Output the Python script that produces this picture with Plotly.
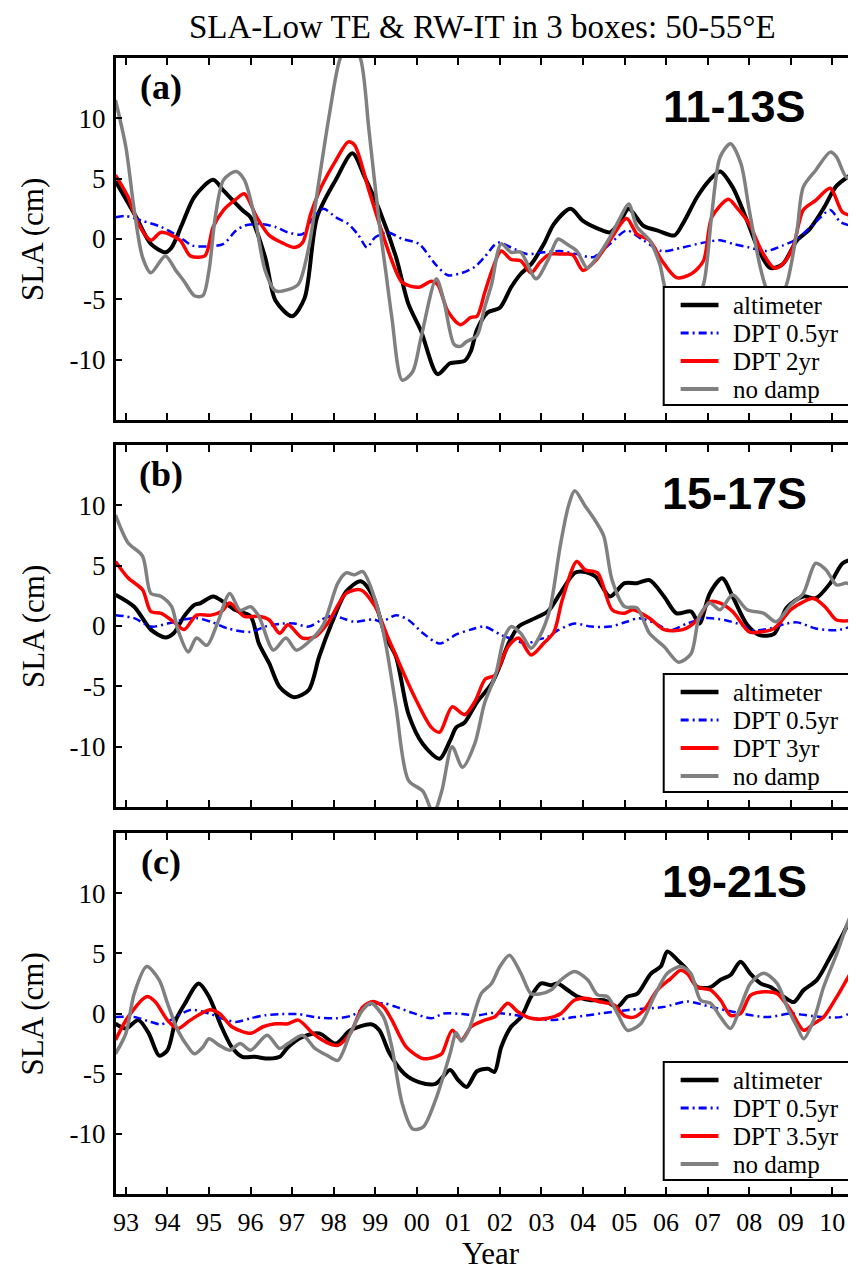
import plotly.graph_objects as go

# ---------------- data ----------------
TICK_YEARS = [1993, 1994, 1995, 1996, 1997, 1998, 1999, 2000, 2001, 2002,
              2003, 2004, 2005, 2006, 2007, 2008, 2009, 2010]
TICK_TEXT = ["93", "94", "95", "96", "97", "98", "99", "00", "01", "02",
             "03", "04", "05", "06", "07", "08", "09", "10"]
Y_TICKS = [-10, -5, 0, 5, 10]
Y_TICK_TEXT = ["-10", "-5", "0", "5", "10"]

PANEL_TAGS = ["(a)", "(b)", "(c)"]
PANEL_BOXES = ["11-13S", "15-17S", "19-21S"]
SERIES_NAMES = ["altimeter", "DPT 0.5yr", None, "no damp"]
RED_NAMES = ["DPT 2yr", "DPT 3yr", "DPT 3.5yr"]

# Panel (a) 11-13S
A_ALT_T = [1992.75, 1993.25, 1993.6, 1993.95, 1994.1, 1994.35, 1994.65, 1995.1, 1995.35, 1995.8,
           1996.0, 1996.35, 1996.6, 1997.0, 1997.3, 1997.6, 1998.05, 1998.45, 1998.75, 1999.1,
           1999.5, 1999.8, 2000.1, 2000.5, 2000.8, 2001.15, 2001.3, 2001.45, 2001.7, 2002.0,
           2002.27, 2002.5, 2002.75, 2003.06, 2003.3, 2003.7, 2004.0, 2004.4, 2004.65, 2004.9,
           2005.1, 2005.45, 2005.8, 2006.2, 2006.4, 2006.75, 2007.05, 2007.3, 2007.6, 2007.95,
           2008.2, 2008.5, 2008.8, 2009.15, 2009.45, 2009.8, 2010.1, 2010.57]
A_ALT_V = [4.8, 1.8, -0.4, -1.1, -0.7, 1.2, 3.5, 4.9, 4.0, 2.4,
           1.8, -1.5, -5.1, -6.4, -4.9, 1.8, 4.9, 7.1, 5.1, 2.4,
           -1.5, -5.4, -7.6, -11.2, -10.3, -10.1, -9.3, -7.5, -6.1, -5.7,
           -4.0, -2.9, -2.1, -0.4, 1.25, 2.5, 1.5, 0.8, 0.55, 1.5,
           2.5, 1.1, 0.7, 0.3, 1.25, 3.5, 4.9, 5.6, 4.3, 1.5,
           -0.7, -2.4, -2.1, -0.1, 0.8, 2.6, 4.4, 5.6]

A_BLUE_T = [1992.75, 1993.0, 1993.4, 1993.85, 1994.3, 1994.6, 1995.0, 1995.35, 1995.65, 1995.85,
            1996.2, 1996.6, 1996.9, 1997.25, 1997.45, 1997.75, 1998.05, 1998.35, 1998.6, 1998.8,
            1999.0, 1999.3, 1999.65, 2000.05, 2000.45, 2000.75, 2001.1, 2001.4, 2001.63, 2001.95,
            2002.27, 2002.65, 2003.06, 2003.45, 2003.85, 2004.25, 2004.65, 2005.05, 2005.45, 2005.9,
            2006.4, 2006.9, 2007.3, 2007.6, 2008.0, 2008.4, 2008.8, 2009.15, 2009.6, 2009.95,
            2010.2, 2010.57]
A_BLUE_V = [1.8, 1.9, 1.5, 1.0, 0.15, -0.55, -0.6, -0.4, 0.7, 1.1,
            1.25, 1.0, 0.55, 0.4, 1.5, 2.5, 1.8, 1.25, 0.3, -0.7,
            0.15, 0.55, 0.0, -0.4, -2.1, -3.0, -2.8, -2.3, -1.5, -0.3,
            -0.7, -1.25, -1.1, -1.0, -1.25, -1.5, -0.4, 0.7, -0.1, -1.0,
            -0.7, -0.3, -0.1, -0.4, -0.7, -1.0, -0.55, 0.0, 1.4, 2.4,
            1.4, 1.0]

A_RED_T = [1992.75, 1993.05, 1993.3, 1993.6, 1993.85, 1994.3, 1994.55, 1994.9, 1995.1, 1995.35,
           1995.65, 1995.85, 1996.15, 1996.45, 1996.75, 1997.05, 1997.25, 1997.45, 1997.7, 1998.05,
           1998.35, 1998.5, 1998.85, 1999.1, 1999.4, 1999.65, 2000.05, 2000.35, 2000.5, 2000.75,
           2001.05, 2001.3, 2001.45, 2001.63, 2001.8, 2002.03, 2002.27, 2002.5, 2002.75, 2002.97,
           2003.2, 2003.5, 2003.75, 2004.0, 2004.3, 2004.65, 2005.05, 2005.3, 2005.6, 2005.9,
           2006.25, 2006.6, 2006.9, 2007.1, 2007.5, 2007.7, 2008.0, 2008.3, 2008.6, 2008.8,
           2009.05, 2009.3, 2009.6, 2009.95, 2010.25, 2010.57]
A_RED_V = [5.3, 3.5, 1.25, -0.1, 0.55, -0.1, -1.4, -1.4, 1.0, 2.4,
           3.3, 3.75, 1.8, 0.3, -0.3, -0.7, -0.3, 2.1, 4.3, 6.5,
           8.05, 7.8, 4.0, 1.25, -1.8, -3.6, -4.0, -3.5, -3.75, -6.0,
           -7.1, -6.5, -6.4, -4.5, -2.7, -1.0, -1.7, -1.8, -2.8, -1.9,
           -1.25, -1.25, -1.3, -2.6, -1.8, -0.1, 1.7, 0.4, -0.1, -1.8,
           -3.2, -2.9, -1.8, 1.8, 3.3, 2.6, 1.25, -1.0, -2.4, -2.1,
           -0.7, 2.4, 3.2, 4.2, 2.2, 1.9]

A_GRAY_T = [1992.75, 1993.0, 1993.2, 1993.4, 1993.6, 1993.95, 1994.2, 1994.4, 1994.65, 1994.85,
            1995.0, 1995.15, 1995.35, 1995.65, 1995.85, 1996.1, 1996.35, 1996.6, 1996.9, 1997.15,
            1997.4, 1997.65, 1997.9, 1998.15, 1998.4, 1998.65, 1998.85, 1999.1, 1999.25, 1999.4,
            1999.65, 1999.9, 2000.1, 2000.47, 2000.65, 2000.9, 2001.05, 2001.2, 2001.45, 2001.63,
            2001.8, 2002.03, 2002.27, 2002.5, 2002.87, 2003.15, 2003.4, 2003.6, 2003.85, 2004.1,
            2004.3, 2004.65, 2004.9, 2005.1, 2005.3, 2005.6, 2005.85, 2006.0, 2006.35, 2006.65,
            2006.9, 2007.1, 2007.3, 2007.55, 2007.8, 2008.0, 2008.25, 2008.4, 2008.65, 2008.9,
            2009.15, 2009.3, 2009.6, 2009.95, 2010.1, 2010.35, 2010.57]
A_GRAY_V = [11.5, 7.6, 2.4, -1.5, -2.8, -1.4, -2.6, -3.5, -4.7, -4.7,
            -2.6, 1.8, 4.9, 5.6, 4.9, 1.8, -2.6, -4.3, -4.2, -3.75,
            -0.7, 4.9, 10.4, 14.9, 16.5, 14.9, 9.0, 1.25, -2.6, -6.5,
            -11.7, -11.0, -8.2, -3.3, -5.1, -8.75, -8.9, -8.5, -8.0, -5.7,
            -3.75, -0.4, -1.1, -1.1, -3.3, -1.8, 0.0, -0.4, -1.0, -2.4,
            -1.7, 0.15, 1.8, 2.9, 1.0, -0.1, -2.1, -4.3, -5.8, -5.5,
            -3.75, 2.1, 6.8, 7.9, 6.25, 2.4, -2.1, -4.0, -5.5, -3.75,
            0.7, 4.3, 5.7, 7.2, 6.8, 5.1, 5.6]

# Panel (b) 15-17S
B_ALT_T = [1992.75, 1993.2, 1993.6, 1993.95, 1994.15, 1994.4, 1994.65, 1994.8, 1995.1, 1995.35,
           1995.65, 1996.0, 1996.2, 1996.45, 1996.7, 1997.05, 1997.4, 1997.65, 1997.95, 1998.3,
           1998.65, 1998.95, 1999.25, 1999.5, 1999.8, 2000.15, 2000.55, 2000.8, 2000.95, 2001.15,
           2001.45, 2001.8, 2002.0, 2002.2, 2002.45, 2002.75, 2003.15, 2003.45, 2003.8, 2004.0,
           2004.3, 2004.65, 2005.0, 2005.3, 2005.6, 2005.95, 2006.25, 2006.6, 2006.8, 2007.05,
           2007.35, 2007.6, 2007.95, 2008.25, 2008.6, 2008.9, 2009.3, 2009.6, 2009.95, 2010.25,
           2010.57]
B_ALT_V = [2.6, 1.6, -0.3, -0.95, -0.6, 0.8, 1.75, 1.9, 2.45, 2.0,
           1.3, 0.8, -1.45, -3.1, -5.05, -5.9, -5.3, -2.55, 0.2, 2.85,
           3.7, 2.45, -0.9, -2.55, -7.3, -9.8, -11.0, -9.5, -8.4, -8.0,
           -6.3, -4.8, -3.3, -1.5, -0.05, 0.5, 1.2, 2.7, 4.4, 4.5,
           4.1, 2.45, 3.55, 3.55, 3.8, 2.45, 1.05, 1.2, 0.2, 2.7,
           3.95, 2.45, 0.1, -0.75, -0.65, 1.5, 2.45, 2.3, 3.55, 5.2,
           5.6]

B_BLUE_T = [1992.75, 1993.2, 1993.6, 1994.0, 1994.35, 1994.7, 1995.05, 1995.45, 1996.0, 1996.35,
            1996.75, 1997.05, 1997.4, 1997.7, 1997.95, 1998.2, 1998.5, 1998.95, 1999.15, 1999.5,
            1999.8, 2000.15, 2000.55, 2000.95, 2001.3, 2001.63, 2002.03, 2002.35, 2002.65, 2002.9,
            2003.15, 2003.4, 2003.8, 2004.2, 2004.65, 2005.05, 2005.35, 2005.75, 2006.1, 2006.5,
            2006.95, 2007.4, 2007.8, 2008.1, 2008.5, 2008.9, 2009.15, 2009.6, 2010.1, 2010.57]
B_BLUE_V = [0.9, 0.65, -0.05, 0.2, 0.5, 0.65, 0.35, -0.2, -0.5, -0.05,
            0.2, 0.2, -0.05, 0.5, 0.85, 0.65, 0.35, 0.55, 0.35, 0.9,
            0.5, -0.6, -1.45, -0.7, -0.3, -0.05, -0.75, -1.15, -1.45, -1.15,
            -0.9, -0.35, 0.2, -0.05, -0.05, 0.35, 0.65, 0.2, -0.35, 0.2,
            0.65, 0.5, 0.1, -0.35, -0.2, 0.2, 0.3, -0.2, -0.35, 0.1]

B_RED_T = [1992.75, 1993.05, 1993.4, 1993.6, 1993.85, 1994.15, 1994.4, 1994.7, 1995.05, 1995.3,
           1995.5, 1995.85, 1996.2, 1996.45, 1996.7, 1996.9, 1997.25, 1997.55, 1997.85, 1998.3,
           1998.65, 1999.0, 1999.3, 1999.65, 1999.95, 2000.35, 2000.55, 2000.85, 2001.15, 2001.4,
           2001.65, 2001.87, 2002.2, 2002.45, 2002.75, 2003.05, 2003.3, 2003.5, 2003.85, 2004.05,
           2004.35, 2004.7, 2005.0, 2005.2, 2005.6, 2005.95, 2006.4, 2006.75, 2007.05, 2007.3,
           2007.6, 2008.0, 2008.25, 2008.6, 2009.0, 2009.3, 2009.55, 2009.85, 2010.1, 2010.57]
B_RED_V = [5.35, 4.0, 3.0, 1.2, 1.05, 0.35, -0.3, 0.9, 0.9, 1.2,
           1.9, 0.8, 0.8, 0.5, -0.6, 0.1, -1.0, -0.9, 0.2, 2.7,
           3.0, 1.6, -0.9, -3.65, -5.9, -8.4, -8.8, -6.7, -7.35, -6.25,
           -4.4, -4.1, -1.7, -1.0, -2.4, -1.45, -0.5, 2.15, 5.35, 4.65,
           4.4, 1.35, 1.05, 1.35, 0.65, -0.3, -0.3, 0.5, 2.0, 1.9,
           1.2, -0.5, -0.5, -0.2, 1.35, 2.0, 2.3, 1.5, 0.5, 0.5]

B_GRAY_T = [1992.75, 1993.05, 1993.4, 1993.6, 1993.85, 1994.1, 1994.25, 1994.5, 1994.7, 1994.95,
            1995.2, 1995.5, 1995.75, 1996.0, 1996.2, 1996.55, 1996.85, 1997.1, 1997.45, 1997.75,
            1998.1, 1998.3, 1998.5, 1998.7, 1999.0, 1999.25, 1999.5, 1999.8, 2000.15, 2000.4,
            2000.6, 2000.85, 2001.1, 2001.4, 2001.63, 2001.9, 2002.1, 2002.27, 2002.5, 2002.75,
            2002.95, 2003.2, 2003.45, 2003.65, 2003.8, 2004.05, 2004.3, 2004.5, 2004.7, 2005.0,
            2005.3, 2005.6, 2005.95, 2006.3, 2006.6, 2006.8, 2007.05, 2007.3, 2007.6, 2007.95,
            2008.35, 2008.65, 2009.0, 2009.3, 2009.6, 2009.85, 2010.1, 2010.35, 2010.57]
B_GRAY_V = [9.2, 6.9, 5.8, 2.7, 2.45, 1.6, -0.3, -2.15, -1.0, -1.6,
            0.2, 2.7, 1.3, 1.6, 0.8, -2.0, -1.0, -2.0, -1.15, 0.1,
            3.55, 4.4, 4.25, 4.5, 2.15, -1.45, -6.7, -12.8, -13.7, -15.5,
            -13.7, -10.0, -11.7, -9.7, -6.4, -4.0, -1.0, -0.05, -0.6, -1.85,
            -0.9, 1.35, 6.6, 9.95, 11.2, 9.95, 8.7, 7.45, 3.8, 1.6,
            1.5, -0.6, -1.7, -3.0, -2.3, 0.8, 1.9, 1.35, 2.6, 1.35,
            1.05, 0.35, 1.75, 2.7, 5.2, 4.65, 3.4, 3.55, 3.0]

# Panel (c) 19-21S
C_ALT_T = [1992.75, 1993.0, 1993.3, 1993.55, 1993.8, 1994.0, 1994.2, 1994.4, 1994.75, 1995.0,
           1995.3, 1995.55, 1995.8, 1996.1, 1996.45, 1996.7, 1996.9, 1997.25, 1997.65, 1998.05,
           1998.4, 1998.9, 1999.1, 1999.35, 1999.7, 2000.05, 2000.45, 2000.8, 2001.0, 2001.2,
           2001.45, 2001.71, 2001.87, 2002.03, 2002.27, 2002.51, 2002.75, 2002.99, 2003.23, 2003.39,
           2003.63, 2003.87, 2004.19, 2004.51, 2004.83, 2005.07, 2005.31, 2005.63, 2005.87, 2006.03,
           2006.27, 2006.51, 2006.75, 2007.07, 2007.31, 2007.55, 2007.79, 2008.03, 2008.27, 2008.51,
           2008.83, 2009.07, 2009.31, 2009.63, 2009.95, 2010.27, 2010.57]
C_ALT_V = [-0.85, -1.25, -0.55, -1.65, -3.5, -3.05, -0.55, 0.7, 2.5, 1.4,
           -1.1, -2.8, -3.6, -3.6, -3.75, -3.6, -2.8, -1.95, -1.65, -2.5,
           -1.4, -0.9, -1.4, -3.35, -5.0, -5.7, -5.85, -4.7, -5.55, -6.1,
           -4.8, -4.6, -4.85, -2.8, -1.1, -0.3, 1.4, 2.5, 2.35, 2.5,
           1.95, 1.4, 1.1, 1.1, 0.55, 1.4, 1.65, 3.3, 3.9, 5.15,
           4.45, 3.6, 2.2, 2.2, 2.8, 3.2, 4.3, 3.3, 2.5, 2.2,
           1.4, 0.95, 1.95, 2.8, 4.7, 6.7, 8.9]

C_BLUE_T = [1992.75, 1993.2, 1993.6, 1993.85, 1994.2, 1994.55, 1995.0, 1995.3, 1995.65, 1996.0,
            1996.35, 1996.75, 1997.15, 1997.55, 1998.05, 1998.45, 1998.85, 1999.2, 1999.5, 1999.9,
            2000.35, 2000.65, 2001.1, 2001.45, 2001.85, 2002.3, 2002.8, 2003.23, 2003.8, 2004.43,
            2005.1, 2005.95, 2006.51, 2007.07, 2007.6, 2008.43, 2009.0, 2009.5, 2009.8, 2010.2,
            2010.57]
C_BLUE_V = [-0.3, -0.3, -0.7, -0.9, -0.3, 0.3, 0.0, -0.4, -0.7, -0.4,
            -0.15, -0.05, -0.05, -0.3, -0.4, -0.15, 0.7, 0.85, 0.55, 0.05,
            -0.4, 0.0, -0.05, -0.15, 0.05, -0.1, -0.4, -0.55, -0.3, 0.0,
            0.3, 0.55, 1.0, 0.55, 0.15, -0.3, 0.0, -0.2, -0.3, -0.3,
            0.3]

C_RED_T = [1992.75, 1993.05, 1993.5, 1993.7, 1994.0, 1994.25, 1994.55, 1995.0, 1995.25, 1995.55,
           1996.0, 1996.3, 1996.6, 1996.9, 1997.15, 1997.5, 1997.8, 1998.1, 1998.4, 1998.7,
           1998.95, 1999.2, 1999.4, 1999.75, 2000.15, 2000.45, 2000.6, 2000.85, 2001.07, 2001.31,
           2001.63, 2001.87, 2002.19, 2002.43, 2002.75, 2003.15, 2003.47, 2003.79, 2004.11, 2004.43,
           2004.75, 2005.0, 2005.23, 2005.47, 2005.79, 2006.11, 2006.35, 2006.51, 2006.75, 2007.07,
           2007.31, 2007.55, 2007.79, 2008.03, 2008.35, 2008.67, 2008.99, 2009.31, 2009.55, 2009.79,
           2010.11, 2010.43, 2010.57]
C_RED_V = [-2.2, -0.3, 1.4, 1.0, -0.55, -1.25, -0.55, 0.3, 0.0, -1.1,
           -1.65, -1.1, -0.85, -0.85, -0.55, -1.65, -2.35, -2.65, -1.65, 0.55,
           1.0, 0.55, -0.55, -2.8, -3.75, -3.6, -3.35, -1.4, -2.2, -1.1,
           -0.55, -0.3, 0.85, 0.15, -0.4, -0.4, 0.0, 1.1, 1.25, 0.95,
           0.7, -0.2, -0.3, 0.3, 1.95, 2.9, 3.6, 3.3, 2.2, 1.95,
           1.1, -0.15, 0.0, 1.5, 1.8, 1.65, 0.3, -1.4, -0.85, -0.3,
           1.4, 3.3, 4.0]

C_GRAY_T = [1992.75, 1993.0, 1993.2, 1993.5, 1993.8, 1994.0, 1994.25, 1994.5, 1994.65, 1994.85,
            1995.0, 1995.25, 1995.5, 1995.75, 1996.0, 1996.4, 1996.7, 1996.9, 1997.25, 1997.55,
            1997.85, 1998.1, 1998.4, 1998.7, 1998.9, 1999.2, 1999.4, 1999.65, 1999.9, 2000.15,
            2000.45, 2000.8, 2000.95, 2001.07, 2001.25, 2001.55, 2001.8, 2002.0, 2002.23, 2002.51,
            2002.75, 2002.99, 2003.23, 2003.47, 2003.79, 2004.11, 2004.35, 2004.59, 2004.83, 2005.07,
            2005.39, 2005.71, 2006.03, 2006.35, 2006.59, 2006.83, 2007.07, 2007.31, 2007.55, 2007.79,
            2008.03, 2008.35, 2008.67, 2008.91, 2009.15, 2009.31, 2009.55, 2009.79, 2010.11, 2010.43,
            2010.57]
C_GRAY_V = [-3.35, -1.65, 1.65, 3.9, 2.8, 0.85, -1.4, -2.8, -3.35, -2.8,
            -2.1, -2.65, -3.05, -2.5, -3.05, -1.8, -2.9, -2.5, -1.8, -2.9,
            -3.5, -3.9, -1.65, 0.3, 0.85, -0.3, -2.8, -7.5, -9.6, -9.45,
            -7.2, -3.35, -1.6, -2.3, -1.4, 1.65, 2.5, 3.9, 4.85, 3.3,
            1.65, 1.65, 1.95, 2.8, 3.5, 2.8, 1.55, 1.4, 0.0, -1.4,
            -0.85, 1.4, 3.35, 3.9, 3.35, 1.1, 0.85, -0.3, -1.25, 0.55,
            2.5, 3.35, 2.5, 0.55, -1.1, -2.1, -0.55, 2.2, 5.0, 8.05,
            8.9]

PANELS = [
    [(A_ALT_T, A_ALT_V), (A_BLUE_T, A_BLUE_V), (A_RED_T, A_RED_V), (A_GRAY_T, A_GRAY_V)],
    [(B_ALT_T, B_ALT_V), (B_BLUE_T, B_BLUE_V), (B_RED_T, B_RED_V), (B_GRAY_T, B_GRAY_V)],
    [(C_ALT_T, C_ALT_V), (C_BLUE_T, C_BLUE_V), (C_RED_T, C_RED_V), (C_GRAY_T, C_GRAY_V)],
]

# ---------------- styling / layout ----------------
W, H = 856, 1272
OFF = 8  # page body margin of the rendered html
X_LEFT = 113
X_RIGHT = 856
PANEL_TOP = [58, 445, 833]
PANEL_BOT = [420, 807, 1194]
X_RANGE = [1992.753, 2010.57]
Y_RANGE = [-15, 15]

SERIF = "Liberation Serif, Times New Roman, serif"
SANS = "Liberation Sans, Arial, sans-serif"

STYLES = [
    dict(color="#000000", width=4),
    dict(color="#0000ff", width=2.5, dash="8px,4px,2px,4px"),
    dict(color="#ff0000", width=3.5),
    dict(color="#808080", width=3.5),
]


def fx(px):
    return (px - OFF) / W


def fy(py):
    return 1 - (py - OFF) / H


fig = go.Figure()
shapes = []
annotations = []

for i in range(3):
    sfx = "" if i == 0 else str(i + 1)
    xa, ya = "x" + sfx, "y" + sfx
    for k, (tt, vv) in enumerate(PANELS[i]):
        name = SERIES_NAMES[k] if k != 2 else RED_NAMES[i]
        fig.add_trace(go.Scatter(
            x=tt, y=vv, mode="lines", name=name, showlegend=False,
            line=dict(shape="spline", smoothing=0.8, **STYLES[k]),
            xaxis=xa, yaxis=ya, hoverinfo="skip"))

    top, bot = PANEL_TOP[i], PANEL_BOT[i]
    fig.layout["xaxis" + sfx] = dict(
        domain=[fx(X_LEFT), fx(X_RIGHT)], range=X_RANGE, anchor=ya,
        showline=True, linecolor="black", linewidth=2.5, mirror="ticks",
        ticks="inside", ticklen=7, tickwidth=2, tickcolor="black",
        tickvals=TICK_YEARS, ticktext=TICK_TEXT,
        showticklabels=(i == 2), ticklabelstandoff=3,
        tickfont=dict(family=SERIF, size=26, color="black"),
        showgrid=False, zeroline=False, fixedrange=True)
    fig.layout["yaxis" + sfx] = dict(
        domain=[fy(bot), fy(top)], range=Y_RANGE, anchor=xa,
        showline=True, linecolor="black", linewidth=2.5, mirror=False,
        ticks="inside", ticklen=7, tickwidth=2, tickcolor="black",
        tickvals=Y_TICKS, ticktext=Y_TICK_TEXT, ticklabelstandoff=2,
        tickfont=dict(family=SERIF, size=27, color="black"),
        showgrid=False, zeroline=False, fixedrange=True)

    # y-axis title
    annotations.append(dict(
        text="SLA (cm)", x=fx(30), y=fy((top + bot) / 2), xref="paper", yref="paper",
        textangle=-90, showarrow=False, xanchor="center", yanchor="middle",
        font=dict(family=SERIF, size=31, color="black")))
    # panel tag
    annotations.append(dict(
        text="<b>" + PANEL_TAGS[i] + "</b>", x=fx(159), y=fy(top + 29),
        xref="paper", yref="paper", showarrow=False, xanchor="center", yanchor="middle",
        font=dict(family=SERIF, size=36, color="black")))
    # box label
    annotations.append(dict(
        text="<b>" + PANEL_BOXES[i] + "</b>", x=fx(734), y=fy(top + 48),
        xref="paper", yref="paper", showarrow=False, xanchor="center", yanchor="middle",
        font=dict(family=SANS, size=45, color="black")))

    # legend box
    lt = top + 229
    shapes.append(dict(type="rect", xref="paper", yref="paper",
                       x0=fx(663), x1=fx(855), y0=fy(lt + 118), y1=fy(lt),
                       fillcolor="white", line=dict(color="black", width=2), layer="above"))
    for k in range(4):
        yy = lt + 18 + 28 * k
        name = SERIES_NAMES[k] if k != 2 else RED_NAMES[i]
        st = STYLES[k]
        shapes.append(dict(type="line", xref="paper", yref="paper",
                           x0=fx(680), x1=fx(718), y0=fy(yy), y1=fy(yy), layer="above",
                           line=dict(color=st["color"], width=st["width"] + 0.5,
                                     dash=st.get("dash", "solid"))))
        annotations.append(dict(
            text=name, x=fx(731), y=fy(yy), xref="paper", yref="paper",
            showarrow=False, xanchor="left", yanchor="middle",
            font=dict(family=SERIF, size=25, color="black")))

annotations.append(dict(
    text="SLA-Low TE &amp; RW-IT in 3 boxes: 50-55°E", x=fx(481), y=fy(27),
    xref="paper", yref="paper", showarrow=False, xanchor="center", yanchor="middle",
    font=dict(family=SERIF, size=33, color="black")))
annotations.append(dict(
    text="Year", x=fx(490), y=fy(1253), xref="paper", yref="paper",
    showarrow=False, xanchor="center", yanchor="middle",
    font=dict(family=SERIF, size=31, color="black")))

fig.update_layout(
    width=W, height=H, margin=dict(l=0, r=0, t=0, b=0),
    paper_bgcolor="white", plot_bgcolor="white",
    showlegend=False, shapes=shapes, annotations=annotations)

fig.write_html("out.html")
